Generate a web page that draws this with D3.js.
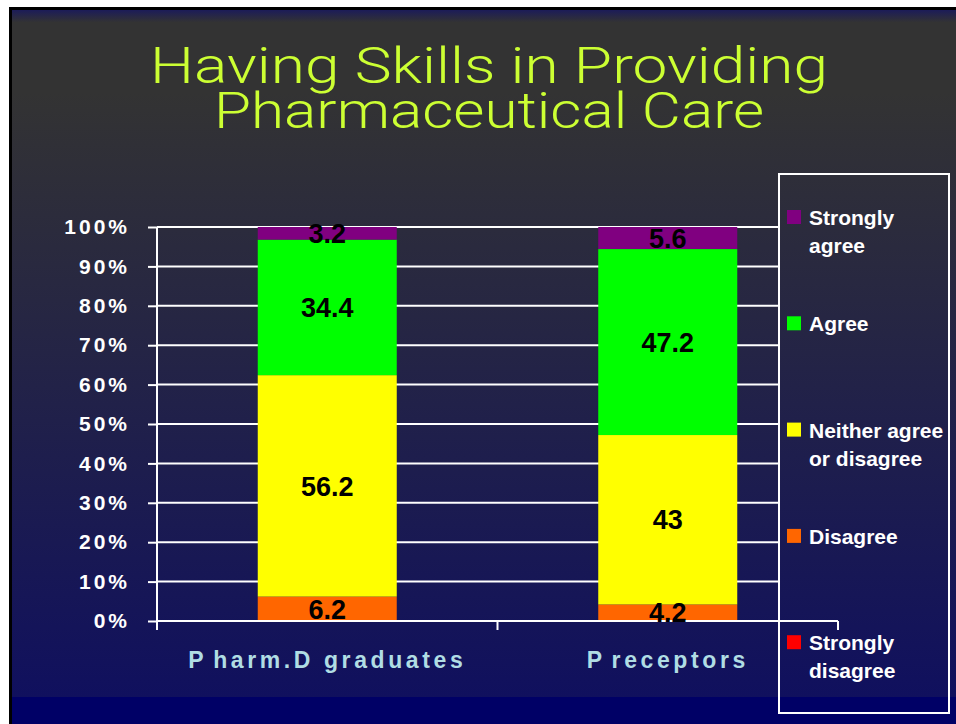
<!DOCTYPE html>
<html>
<head>
<meta charset="utf-8">
<script src="https://cdn.jsdelivr.net/npm/d3@7"></script>
<style>
	body { margin: 0; background: #fff; }
	svg { display: block; }
	text { font-family: 'Liberation Sans', Arial, sans-serif; }
</style>
</head>
<body>
<div id="graphic"></div>
<script>
// chart data
let categories = ['Pharm.D graduates', 'Preceptors'];
let seriesNames = ['Strongly disagree', 'Disagree', 'Neither agree or disagree', 'Agree', 'Strongly agree'];
let seriesColours = ['#ff0000', '#ff6600', '#ffff00', '#00ff00', '#800080'];
let pharmdValues = [0, 6.2, 56.2, 34.4, 3.2];
let preceptorValues = [0, 4.2, 43, 47.2, 5.6];
let yTicks = [0, 10, 20, 30, 40, 50, 60, 70, 80, 90, 100];
let titleLines = ['Having Skills in Providing', 'Pharmaceutical Care'];
let legendLines = [['Strongly', 'agree'], ['Agree'], ['Neither agree', 'or disagree'], ['Disagree'], ['Strongly', 'disagree']];

let graphic_data = categories.map((c, i) => {
	let vals = i == 0 ? pharmdValues : preceptorValues;
	let row = { name: c };
	seriesNames.forEach((s, j) => (row[s] = vals[j]));
	return row;
});

let width = 956, height = 724;

let svg = d3.select('#graphic')
	.append('svg')
	.attr('width', width)
	.attr('height', height);

// slide background
let defs = svg.append('defs');
let grad = defs.append('linearGradient')
	.attr('id', 'bg')
	.attr('x1', 0).attr('y1', 0).attr('x2', 0).attr('y2', 1);
grad.append('stop').attr('offset', '0%').attr('stop-color', '#1c1c58');
grad.append('stop').attr('offset', '1.8%').attr('stop-color', '#333333');
grad.append('stop').attr('offset', '12%').attr('stop-color', '#333333');
grad.append('stop').attr('offset', '100%').attr('stop-color', '#10105e');

svg.append('rect').attr('x', 0).attr('y', 0).attr('width', width).attr('height', height).attr('fill', '#fff');
svg.append('rect').attr('x', 9).attr('y', 7).attr('width', width - 9).attr('height', height - 7).attr('fill', '#000');
svg.append('rect').attr('x', 12).attr('y', 10).attr('width', width - 12).attr('height', 687).attr('fill', 'url(#bg)');
svg.append('rect').attr('x', 12).attr('y', 697).attr('width', width - 12).attr('height', height - 697).attr('fill', '#000066');

// title
svg.selectAll('text.title')
	.data(titleLines)
	.join('text')
	.attr('class', 'title')
	.attr('x', 489)
	.attr('y', (d, i) => 83 + i * 45)
	.attr('text-anchor', 'middle')
	.attr('fill', '#ccff33')
	.style('font-family', "Roboto, 'Open Sans', 'Liberation Sans', sans-serif")
	.style('font-weight', 300)
	.style('font-size', '50px')
	.attr('textLength', (d, i) => (i == 0 ? 678 : 550))
	.attr('lengthAdjust', 'spacingAndGlyphs')
	.text(d => d);

// scales
let margin = { left: 157, right: 838, top: 227, bottom: 621 };
let x = d3.scaleBand()
	.domain(categories)
	.range([margin.left, margin.right]);
let barWidth = 139;
let y = d3.scaleLinear()
	.domain([0, 100])
	.range([margin.bottom, margin.top]);

// gridlines
svg.append('g')
	.selectAll('line')
	.data(yTicks.filter(d => d > 0))
	.join('line')
	.attr('x1', margin.left).attr('x2', 778)
	.attr('y1', d => y(d)).attr('y2', d => y(d))
	.attr('stroke', '#fff').attr('stroke-width', 2);

// y axis
let yAxis = d3.axisLeft(y)
	.tickValues(yTicks)
	.tickSize(9)
	.tickPadding(18)
	.tickFormat(d => d + '%');

let yg = svg.append('g')
	.attr('class', 'y axis')
	.attr('transform', 'translate(' + margin.left + ',0)')
	.call(yAxis);
yg.select('.domain').remove();
yg.selectAll('line').attr('stroke', '#fff').attr('stroke-width', 2);
yg.selectAll('text')
	.attr('fill', '#fff')
	.style('font-size', '21px')
	.style('font-weight', 'bold')
	.style('letter-spacing', '3px');
yg.append('line')
	.attr('x1', 0).attr('x2', 0)
	.attr('y1', margin.top).attr('y2', margin.bottom + 9)
	.attr('stroke', '#fff').attr('stroke-width', 2);

// stacked bars
let stack = d3.stack().keys(seriesNames);
let layers = stack(graphic_data);
let colour = d3.scaleOrdinal().domain(seriesNames).range(seriesColours);

let barGroups = svg.append('g')
	.selectAll('g')
	.data(layers)
	.join('g')
	.attr('fill', d => colour(d.key));

barGroups.selectAll('rect')
	.data(d => d)
	.join('rect')
	.attr('x', d => x(d.data.name) + x.bandwidth() / 2 - barWidth / 2)
	.attr('y', d => y(d[1]))
	.attr('width', barWidth)
	.attr('height', d => y(d[0]) - y(d[1]));

// x axis
let xg = svg.append('g').attr('class', 'x axis');
xg.append('line')
	.attr('x1', margin.left).attr('x2', margin.right)
	.attr('y1', margin.bottom).attr('y2', margin.bottom)
	.attr('stroke', '#fff').attr('stroke-width', 2);
xg.selectAll('line.tick')
	.data(categories)
	.join('line')
	.attr('class', 'tick')
	.attr('x1', d => x(d) + x.bandwidth()).attr('x2', d => x(d) + x.bandwidth())
	.attr('y1', margin.bottom).attr('y2', margin.bottom + 9)
	.attr('stroke', '#fff').attr('stroke-width', 2);

let catLabels = xg.selectAll('text')
	.data(categories)
	.join('text')
	.attr('x', d => x(d) + x.bandwidth() / 2)
	.attr('y', 668)
	.attr('text-anchor', 'middle')
	.attr('fill', '#b0dde4')
	.style('font-size', '23px')
	.style('font-weight', 'bold')
	.style('letter-spacing', '3.6px');
catLabels.append('tspan').text(d => d.slice(0, 1));
catLabels.append('tspan').attr('dx', 6).text(d => d.slice(1));

// data labels (use the stored value, not the stacked difference)
let labelData = [];
layers.forEach(layer => {
	layer.forEach(d => {
		let v = d.data[layer.key];
		if (v > 0) labelData.push({ name: d.data.name, value: v, mid: (d[0] + d[1]) / 2 });
	});
});
svg.append('g')
	.selectAll('text')
	.data(labelData)
	.join('text')
	.attr('x', d => x(d.name) + x.bandwidth() / 2)
	.attr('y', d => y(d.mid))
	.attr('dy', '0.36em')
	.attr('text-anchor', 'middle')
	.attr('fill', '#000')
	.style('font-size', '27px')
	.style('font-weight', 'bold')
	.text(d => d.value);

// legend
let legend = svg.append('g').attr('class', 'legend');
legend.append('rect')
	.attr('x', 779).attr('y', 174)
	.attr('width', 170).attr('height', 539)
	.attr('fill', 'none')
	.attr('stroke', '#fff').attr('stroke-width', 2);

let legendOrder = seriesNames.slice().reverse();
let legendItems = legend.selectAll('g.item')
	.data(legendOrder)
	.join('g')
	.attr('class', 'item')
	.attr('transform', (d, i) => 'translate(0,' + (225 + i * 106.3) + ')');
legendItems.append('rect')
	.attr('x', 787).attr('y', -15)
	.attr('width', 14).attr('height', 14)
	.attr('fill', d => colour(d));
legendItems.append('text')
	.attr('fill', '#fff')
	.style('font-size', '21px')
	.style('font-weight', 'bold')
	.selectAll('tspan')
	.data((d, i) => legendLines[i])
	.join('tspan')
	.attr('x', 809)
	.attr('y', (d, i) => i * 28)
	.text(d => d);
</script>
</body>
</html>
